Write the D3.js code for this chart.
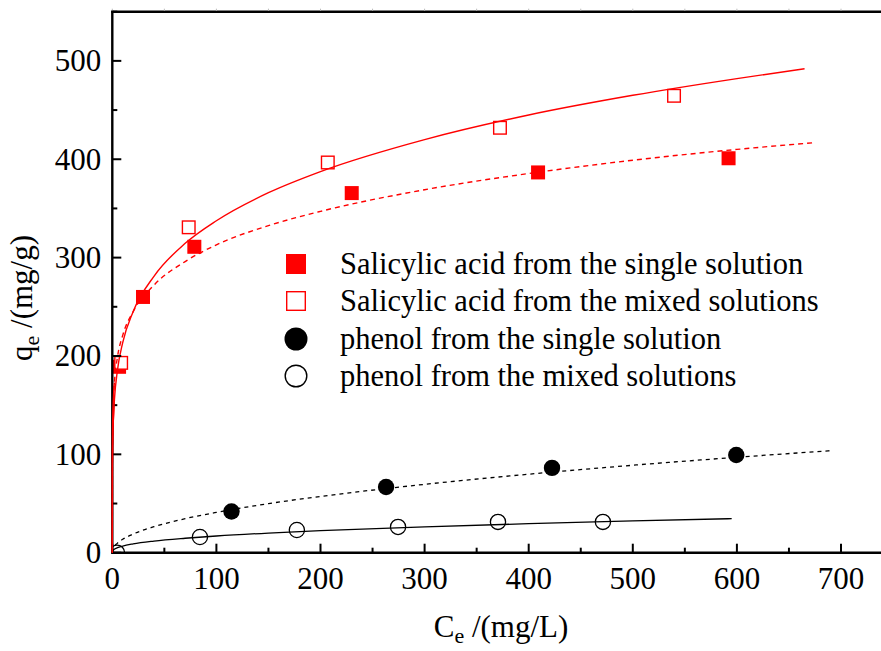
<!DOCTYPE html>
<html>
<head>
<meta charset="utf-8">
<script src="https://cdn.jsdelivr.net/npm/d3@7"></script>
<style>
  html, body { margin: 0; padding: 0; background: #fff; }
  svg { display: block; font-family: "Liberation Serif", "Times New Roman", serif; }
</style>
</head>
<body>
<svg id="chart" width="881" height="651"></svg>
<script>
// Measured adsorption data (Ce in mg/L, qe in mg/g)
const saSingleC = [6.5, 29.5, 78.8, 230, 409, 592];
const saSingleQ = [189, 260, 311, 365.6, 386.6, 401];
const saMixedC = [8.5, 73.4, 207, 372.4, 539.6];
const saMixedQ = [193, 330.8, 396.7, 432, 464.5];
const phSingleC = [114.5, 263, 422.4, 599.4];
const phSingleQ = [41.9, 66.8, 86.2, 99.4];
const phMixedC = [4.5, 84.2, 177.3, 274.5, 370.5, 471.3];
const phMixedQ = [0, 16, 23.1, 26.2, 31.3, 31.3];

// Fitted isotherm curves (Ce, qe pairs)
const saMixedFitC = [0, 0.1, 0.5, 1, 2, 5, 10, 20, 40, 70, 100, 150, 200, 300, 400, 500, 600, 665];
const saMixedFitQ = [0, 85.4, 117.6, 135, 155, 185.9, 213.5, 245, 281, 314.5, 337.5, 366, 387.5, 420, 445, 465, 482, 492];
const saSingleFitC = [0, 0.1, 0.5, 1, 2, 5, 10, 20, 40, 70, 100, 150, 200, 300, 400, 500, 600, 676];
const saSingleFitQ = [0, 110, 140.5, 156, 173, 199, 221, 245, 272, 296, 313, 332.5, 347, 369, 385.5, 399, 410, 417];
const phSingleFitC = [0, 0.2, 1, 5, 10, 20, 40, 70, 100, 150, 200, 300, 400, 500, 600, 691];
const phSingleFitQ = [0, 2.08, 4.5, 9.74, 13.6, 18.95, 26.4, 34.6, 41.0, 49.9, 57.2, 69.5, 79.8, 88.9, 97.0, 103.8];
const phMixedFitC = [0, 0.2, 1, 5, 10, 20, 40, 70, 100, 150, 200, 300, 400, 500, 595];
const phMixedFitQ = [0, 1.43, 2.72, 5.16, 6.80, 8.96, 11.8, 14.7, 17.0, 20.0, 22.4, 26.3, 29.5, 32.3, 34.6];

const xTicks = [0, 100, 200, 300, 400, 500, 600, 700];
const yTicks = [0, 100, 200, 300, 400, 500];
const legendLabels = [
  "Salicylic acid from the single solution",
  "Salicylic acid from the mixed solutions",
  "phenol from the single solution",
  "phenol from the mixed solutions"
];

(function draw() {
  const RED = "#ff0000";
  const svg = d3.select("#chart");

  const pL = 112.3, pB = 552.7, pT = 11.7;
  const x = d3.scaleLinear().domain([0, 700]).range([pL, 841]);
  const y = d3.scaleLinear().domain([0, 550]).range([pB, pT]);
  const xMax = x.invert(884);

  // clip marks to the plot frame
  svg.append("defs").append("clipPath").attr("id", "plotClip")
    .append("rect").attr("x", pL).attr("y", pT).attr("width", 884 - pL).attr("height", pB - pT);
  const plot = svg.append("g").attr("clip-path", "url(#plotClip)");

  const line = d3.line().x(d => x(d[0])).y(d => y(d[1])).curve(d3.curveMonotoneX);
  const zip = (a, b) => a.map((v, i) => [v, b[i]]);

  // fit curves
  const curves = [
    { c: saMixedFitC, q: saMixedFitQ, color: RED, dash: null, w: 1.4 },
    { c: saSingleFitC, q: saSingleFitQ, color: RED, dash: "5,4", w: 1.4 },
    { c: phSingleFitC, q: phSingleFitQ, color: "#000", dash: "4,4", w: 1.3 },
    { c: phMixedFitC, q: phMixedFitQ, color: "#000", dash: null, w: 1.3 }
  ];
  curves.forEach(cv => {
    svg.append("path")
      .attr("d", line(zip(cv.c, cv.q)))
      .attr("fill", "none")
      .attr("stroke", cv.color)
      .attr("stroke-width", cv.w)
      .attr("stroke-dasharray", cv.dash);
  });

  // markers
  const sq = 14, r = 7.6;
  plot.selectAll(".saS").data(zip(saSingleC, saSingleQ)).enter().append("rect")
    .attr("x", d => x(d[0]) - sq / 2).attr("y", d => y(d[1]) - sq / 2)
    .attr("width", sq).attr("height", sq).attr("fill", RED);
  plot.selectAll(".saM").data(zip(saMixedC, saMixedQ)).enter().append("rect")
    .attr("x", d => x(d[0]) - (sq - 1.4) / 2).attr("y", d => y(d[1]) - (sq - 1.4) / 2)
    .attr("width", sq - 1.4).attr("height", sq - 1.4)
    .attr("fill", "#fff").attr("stroke", RED).attr("stroke-width", 1.4);
  plot.selectAll(".phS").data(zip(phSingleC, phSingleQ)).enter().append("circle")
    .attr("cx", d => x(d[0])).attr("cy", d => y(d[1])).attr("r", r + 0.6).attr("fill", "#000");
  plot.selectAll(".phM").data(zip(phMixedC, phMixedQ)).enter().append("circle")
    .attr("cx", d => x(d[0])).attr("cy", d => y(d[1])).attr("r", r)
    .attr("fill", "#fff").attr("stroke", "#000").attr("stroke-width", 1.3);

  // axes
  const fontSize = 31;
  const xAxisG = svg.append("g").attr("transform", `translate(0,${pB})`);
  const xMinor = d3.range(50, xMax, 100);
  xAxisG.selectAll(".xmaj").data(xTicks).enter().append("line")
    .attr("x1", d => x(d)).attr("x2", d => x(d)).attr("y1", 0).attr("y2", -9)
    .attr("stroke", "#000").attr("stroke-width", 2);
  xAxisG.selectAll(".xmin").data(xMinor).enter().append("line")
    .attr("x1", d => x(d)).attr("x2", d => x(d)).attr("y1", 0).attr("y2", -5)
    .attr("stroke", "#000").attr("stroke-width", 2);
  xAxisG.append("line").attr("x1", pL - 1).attr("x2", 884).attr("y1", 0).attr("y2", 0)
    .attr("stroke", "#000").attr("stroke-width", 2.4);
  xAxisG.selectAll(".xl").data(xTicks).enter().append("text")
    .attr("x", d => x(d)).attr("y", 36).attr("text-anchor", "middle")
    .attr("font-size", fontSize).text(d => d);

  // top frame with faint ticks
  svg.append("line").attr("x1", pL - 1).attr("x2", 884).attr("y1", pT).attr("y2", pT)
    .attr("stroke", "#000").attr("stroke-width", 2.4);
  svg.selectAll(".tt").data(xTicks.concat(xMinor)).enter().append("line")
    .attr("x1", d => x(d)).attr("x2", d => x(d)).attr("y1", pT - 1).attr("y2", pT - 3)
    .attr("stroke", "#bbb").attr("stroke-width", 1);

  const yAxisG = svg.append("g");
  const yMinor = d3.range(50, 551, 100);
  yAxisG.selectAll(".ymaj").data(yTicks).enter().append("line")
    .attr("x1", pL).attr("x2", pL + 9).attr("y1", d => y(d)).attr("y2", d => y(d))
    .attr("stroke", "#000").attr("stroke-width", 2);
  yAxisG.selectAll(".ymin").data(yMinor).enter().append("line")
    .attr("x1", pL).attr("x2", pL + 5).attr("y1", d => y(d)).attr("y2", d => y(d))
    .attr("stroke", "#000").attr("stroke-width", 2);
  yAxisG.append("line").attr("x1", pL).attr("x2", pL).attr("y1", pT - 1).attr("y2", pB + 1)
    .attr("stroke", "#000").attr("stroke-width", 2.4);
  yAxisG.selectAll(".yl").data(yTicks).enter().append("text")
    .attr("x", pL - 11).attr("y", d => y(d) + 10.5).attr("text-anchor", "end")
    .attr("font-size", fontSize).text(d => d);

  // steep start of the salicylic curves drawn over the axis line
  [curves[0], curves[1]].forEach(cv => {
    svg.append("path")
      .attr("d", line(zip(cv.c.slice(0, 5), cv.q.slice(0, 5))))
      .attr("fill", "none").attr("stroke", RED).attr("stroke-width", 1.4);
  });

  // axis titles
  const xt = svg.append("text").attr("x", 501).attr("y", 637).attr("text-anchor", "middle")
    .attr("font-size", fontSize);
  xt.append("tspan").text("C");
  xt.append("tspan").attr("font-size", 22).attr("dy", 6).text("e");
  xt.append("tspan").attr("dy", -6).text(" /(mg/L)");

  const yt = svg.append("text").attr("transform", "translate(32,298) rotate(-90)")
    .attr("text-anchor", "middle").attr("font-size", fontSize);
  yt.append("tspan").text("q");
  yt.append("tspan").attr("font-size", 22).attr("dy", 7).text("e");
  yt.append("tspan").attr("dy", -7).text(" /(mg/g)");

  // legend
  const legRows = [264, 301, 339, 376];
  const lg = svg.append("g");
  legRows.forEach((ry, i) => {
    const mx = 296;
    if (i === 0) lg.append("rect").attr("x", mx - 10).attr("y", ry - 10).attr("width", 20).attr("height", 20).attr("fill", RED);
    if (i === 1) lg.append("rect").attr("x", mx - 9.3).attr("y", ry - 9.3).attr("width", 18.6).attr("height", 18.6)
      .attr("fill", "#fff").attr("stroke", RED).attr("stroke-width", 1.4);
    if (i === 2) lg.append("circle").attr("cx", mx).attr("cy", ry).attr("r", 11.5).attr("fill", "#000");
    if (i === 3) lg.append("circle").attr("cx", mx).attr("cy", ry).attr("r", 10.8)
      .attr("fill", "#fff").attr("stroke", "#000").attr("stroke-width", 1.4);
    lg.append("text").attr("x", 340).attr("y", ry + 10).attr("font-size", 30.5).text(legendLabels[i]);
  });
})();
</script>
</body>
</html>
